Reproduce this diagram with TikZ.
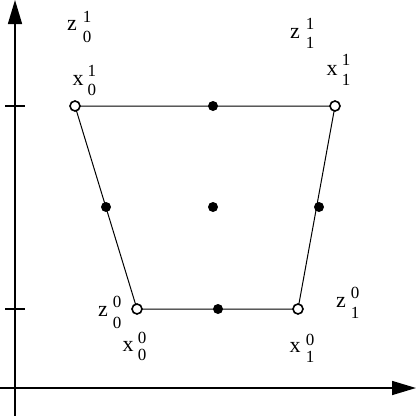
\documentclass[tikz,border=0pt]{standalone}
\usepackage{fontspec}
\setmainfont{Liberation Serif}
\usetikzlibrary{arrows.meta}
\begin{document}
\begin{tikzpicture}[x=1pt,y=-1pt,
  axis/.style={line width=1.6pt,-{Triangle[length=24pt,width=14pt]}},
  edge/.style={line width=1pt},
  tick/.style={line width=1.6pt},
  corner/.style={circle,draw,line width=1.6pt,fill=white,minimum size=10pt,inner sep=0pt},
  dot/.style={circle,fill=black,minimum size=10pt,inner sep=0pt},
  letter/.style={font=\fontsize{22}{22}\selectfont,inner sep=0pt},
  digit/.style={font=\fontsize{17}{17}\selectfont,inner sep=0pt}]
\useasboundingbox (0,0) rectangle (416,416);
% axes
\coordinate (o1) at (15,416);
\coordinate (o2) at (15,0);
\coordinate (h1) at (0,388);
\coordinate (h2) at (416,388);
\draw[axis] (o1) -- (o2);
\draw[axis] (h1) -- (h2);
\coordinate (t1a) at (5,106); \coordinate (t1b) at (25,106);
\coordinate (t2a) at (5,309); \coordinate (t2b) at (25,309);
\draw[tick] (t1a) -- (t1b);
\draw[tick] (t2a) -- (t2b);
% corners
\coordinate (A) at (75,106);
\coordinate (B) at (335,106);
\coordinate (C) at (298,309);
\coordinate (D) at (137,309);
\draw[edge] (A) -- (B) -- (C) -- (D) -- cycle;
\node[corner] (cA) at (A) {};
\node[corner] (cB) at (B) {};
\node[corner] (cC) at (C) {};
\node[corner] (cD) at (D) {};
% dots
\node[dot] (m1) at (213,106) {};
\node[dot] (m2) at (106,207) {};
\node[dot] (m3) at (319,207) {};
\node[dot] (m4) at (218,309) {};
\node[dot] (m5) at (213,207) {};
% labels
\node[letter] (l1) at (72,25) {z};
\node[digit] (l1a) at (87,17) {1};
\node[digit] (l1b) at (87,37) {0};
\node[letter] (l2) at (78,80) {x};
\node[digit] (l2a) at (92,71) {1};
\node[digit] (l2b) at (92,90) {0};
\node[letter] (l3) at (295,33) {z};
\node[digit] (l3a) at (310,24) {1};
\node[digit] (l3b) at (310,43) {1};
\node[letter] (l4) at (332,70) {x};
\node[digit] (l4a) at (346,60) {1};
\node[digit] (l4b) at (346,80) {1};
\node[letter] (l5) at (103,311) {z};
\node[digit] (l5a) at (117,302) {0};
\node[digit] (l5b) at (117,323) {0};
\node[letter] (l6) at (128,346) {x};
\node[digit] (l6a) at (142,338) {0};
\node[digit] (l6b) at (142,355) {0};
\node[letter] (l7) at (341,302) {z};
\node[digit] (l7a) at (355,293) {0};
\node[digit] (l7b) at (355,313) {1};
\node[letter] (l8) at (295,347) {x};
\node[digit] (l8a) at (310,340) {0};
\node[digit] (l8b) at (310,357) {1};
\end{tikzpicture}
\end{document}
